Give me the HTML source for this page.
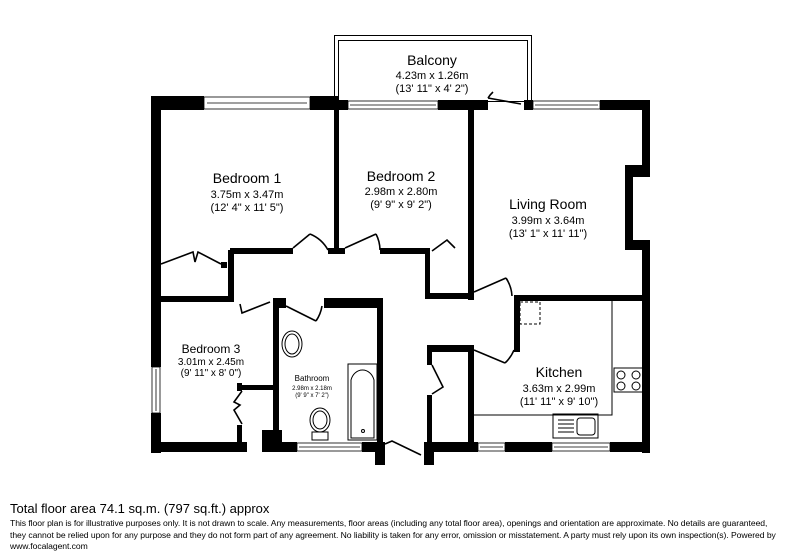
<!DOCTYPE html>
<html><head><meta charset="utf-8"><style>
body{margin:0;background:#fff;width:800px;height:560px;overflow:hidden;font-family:"Liberation Sans",Arial,sans-serif}
svg{position:absolute;left:0;top:0}
.ft{position:absolute;left:10px;color:#000;white-space:nowrap}
</style></head><body>
<svg width="800" height="500" viewBox="0 0 800 500">
<g fill="none" stroke="#000" stroke-width="1">
<rect x="334.5" y="35.5" width="197" height="66"/>
<rect x="338.5" y="40.5" width="189" height="61"/>
</g>
<g fill="#000">
<rect x="151" y="96" width="10" height="271"/>
<rect x="151" y="413" width="10" height="40"/>
<rect x="151" y="96" width="53" height="14"/>
<rect x="310" y="96" width="29" height="14"/>
<rect x="335" y="100" width="13" height="10"/>
<rect x="438" y="100" width="50" height="10"/>
<rect x="524" y="100" width="9" height="10"/>
<rect x="600" y="100" width="50" height="10"/>
<rect x="642" y="100" width="8" height="70"/>
<rect x="625" y="165" width="25" height="12"/>
<rect x="625" y="165" width="8" height="85"/>
<rect x="625" y="240" width="25" height="10"/>
<rect x="642" y="240" width="8" height="213"/>
<rect x="334" y="100" width="5" height="152"/>
<rect x="468" y="110" width="6" height="190"/>
<rect x="230" y="248" width="63" height="6"/>
<rect x="328" y="248" width="17" height="6"/>
<rect x="380" y="248" width="50" height="6"/>
<rect x="425" y="250" width="5" height="48"/>
<rect x="425" y="293" width="49" height="6"/>
<rect x="228" y="250" width="6" height="52"/>
<rect x="151" y="296" width="83" height="6"/>
<rect x="154" y="262" width="6" height="6"/>
<rect x="221" y="262" width="6" height="6"/>
<rect x="514" y="295" width="136" height="6"/>
<rect x="514" y="295" width="6" height="57"/>
<rect x="427" y="345" width="47" height="7"/>
<rect x="427" y="345" width="5" height="20"/>
<rect x="427" y="395" width="5" height="57"/>
<rect x="468" y="347" width="6" height="105"/>
<rect x="273" y="298" width="13" height="10"/>
<rect x="273" y="298" width="6" height="150"/>
<rect x="324" y="298" width="58" height="10"/>
<rect x="377" y="298" width="6" height="146"/>
<rect x="237" y="385" width="38" height="5"/>
<rect x="237" y="383" width="5" height="8"/>
<rect x="237" y="425" width="5" height="18"/>
<rect x="151" y="442" width="96" height="10"/>
<rect x="268" y="442" width="29" height="10"/>
<rect x="262" y="430" width="20" height="22"/>
<rect x="362" y="442" width="23" height="10"/>
<rect x="375" y="442" width="10" height="23"/>
<rect x="424" y="442" width="10" height="23"/>
<rect x="424" y="442" width="54" height="10"/>
<rect x="505" y="442" width="47" height="10"/>
<rect x="610" y="442" width="40" height="10"/>
</g>
<g fill="#fff" stroke="#000" stroke-width="0.8">
<rect x="204" y="97" width="106" height="12"/><line x1="207" y1="103" x2="307" y2="103"/>
<rect x="348" y="101" width="90" height="8"/><line x1="350" y1="105" x2="436" y2="105"/>
<rect x="533" y="101" width="67" height="8"/><line x1="535" y1="105" x2="598" y2="105"/>
<rect x="152" y="367" width="8" height="46"/><line x1="156" y1="369" x2="156" y2="411"/>
<rect x="297" y="443" width="65" height="8"/><line x1="299" y1="447" x2="360" y2="447"/>
<rect x="478" y="443" width="27" height="8"/><line x1="480" y1="447" x2="503" y2="447"/>
<rect x="552" y="443" width="58" height="8"/><line x1="554" y1="447" x2="608" y2="447"/>
</g>
<g fill="none" stroke="#000" stroke-width="1.6">
<path d="M488 98 L521 104"/><path d="M488 98 A30 30 0 0 1 493 92"/>
<path d="M293 248 L310 234"/><path d="M310 234 A36 36 0 0 1 328 250"/>
<path d="M345 248 L376 234"/><path d="M376 234 A36 36 0 0 1 380 250"/>
<path d="M432 251 L447 240 L455 248"/>
<path d="M161 264 L193 252 L195 262 L198 252 L221 264"/>
<path d="M474 292 L506 278"/><path d="M506 278 A36 36 0 0 1 512 296"/>
<path d="M474 350 L505 363"/><path d="M505 363 A36 36 0 0 0 514 350"/>
<path d="M240 304 L242 313 L270 302"/>
<path d="M286 306 L316 321"/><path d="M316 321 A36 36 0 0 0 322 306"/>
<path d="M432 365 L443 387 L432 394"/>
<path d="M385 444 L392 441 L421 455"/>
<path d="M242 391 L234 402 L240 405 L234 410 L242 424"/>
</g>
<g fill="none" stroke="#000" stroke-width="1">
<rect x="520" y="302" width="20" height="22" stroke-dasharray="3,2"/>
<path d="M473 415 L612 415 L612 301"/>
<rect x="614" y="368" width="30" height="24"/>
<circle cx="621" cy="375" r="4"/><circle cx="636" cy="375" r="4"/>
<circle cx="621" cy="386" r="4"/><circle cx="636" cy="386" r="4"/>
<rect x="553" y="414" width="45" height="24"/>
<rect x="577" y="418" width="18" height="17" rx="3"/>
<path d="M558 420h16M558 424h16M558 428h16M558 432h16"/>
<rect x="348" y="364" width="29" height="76"/>
<path d="M351 438 L351 380 A12 14 0 0 1 374 380 L374 438 Z"/>
<circle cx="363" cy="431" r="1.5"/>
<ellipse cx="292" cy="344" rx="10" ry="13"/>
<ellipse cx="292" cy="344" rx="7" ry="10"/>
<ellipse cx="320" cy="420" rx="10" ry="12"/>
<ellipse cx="320" cy="420" rx="7" ry="9"/>
<rect x="312" y="432" width="16" height="8"/>
</g>
<g font-family="Liberation Sans, Arial, sans-serif" text-anchor="middle" fill="#000">
<text x="432" y="65" font-size="14">Balcony</text>
<text x="432" y="79" font-size="11">4.23m x 1.26m</text>
<text x="432" y="92" font-size="11">(13' 11" x 4' 2")</text>
<text x="247" y="183" font-size="14">Bedroom 1</text>
<text x="247" y="198" font-size="11">3.75m x 3.47m</text>
<text x="247" y="211" font-size="11">(12' 4" x 11' 5")</text>
<text x="401" y="181" font-size="14">Bedroom 2</text>
<text x="401" y="195" font-size="11">2.98m x 2.80m</text>
<text x="401" y="208" font-size="11">(9' 9" x 9' 2")</text>
<text x="548" y="209" font-size="14">Living Room</text>
<text x="548" y="224" font-size="11">3.99m x 3.64m</text>
<text x="548" y="237" font-size="11">(13' 1" x 11' 11")</text>
<text x="211" y="353" font-size="12">Bedroom 3</text>
<text x="211" y="365" font-size="10">3.01m x 2.45m</text>
<text x="211" y="376" font-size="10">(9' 11" x 8' 0")</text>
<text x="312" y="381" font-size="8">Bathroom</text>
<text x="312" y="390" font-size="6">2.98m x 2.18m</text>
<text x="312" y="397" font-size="6">(9' 9" x 7' 2")</text>
<text x="559" y="377" font-size="14">Kitchen</text>
<text x="559" y="392" font-size="11">3.63m x 2.99m</text>
<text x="559" y="405" font-size="11">(11' 11" x 9' 10")</text>
</g>
</svg>
<div class="ft" style="top:501px;font-size:13px">Total floor area 74.1 sq.m. (797 sq.ft.) approx</div>
<div class="ft" style="top:518px;font-size:8.6px;line-height:11.5px;letter-spacing:-0.06px">This floor plan is for illustrative purposes only. It is not drawn to scale. Any measurements, floor areas (including any total floor area), openings and orientation are approximate. No details are guaranteed,<br>they cannot be relied upon for any purpose and they do not form part of any agreement. No liability is taken for any error, omission or misstatement. A party must rely upon its own inspection(s). Powered by<br>www.focalagent.com</div>
</body></html>
